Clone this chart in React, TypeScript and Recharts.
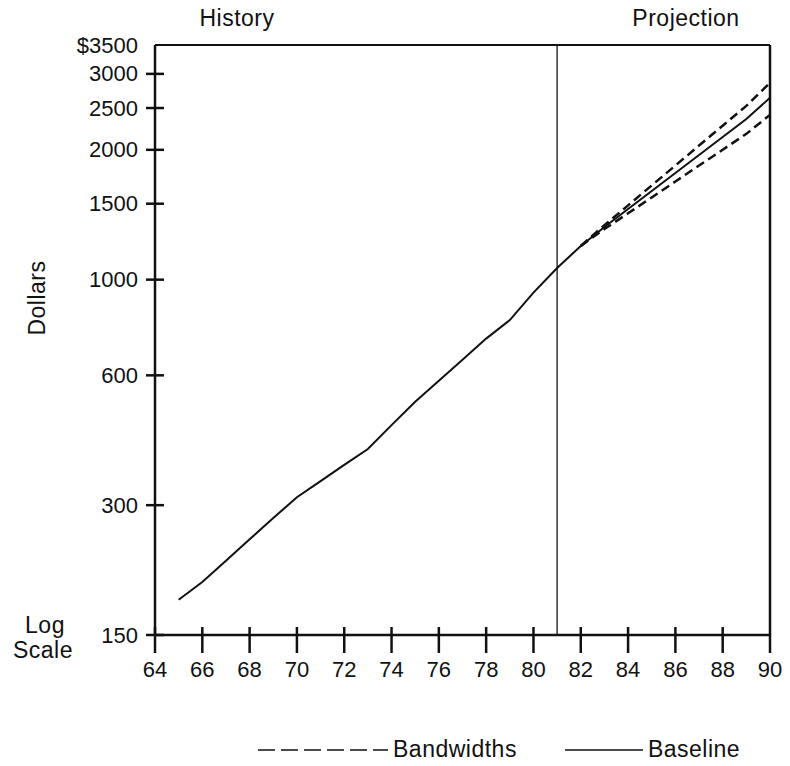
import React from 'react';
import { LineChart, Line, XAxis, YAxis, ReferenceLine, Legend } from 'recharts';

// values
const historyYears = [65, 66, 67, 68, 69, 70, 71, 72, 73, 74, 75, 76, 77, 78, 79, 80, 81];
const historyValues = [181, 199, 223, 250, 280, 313, 341, 372, 405, 460, 521, 583, 652, 730, 806, 933, 1064];

const projectionYears = [82, 83, 84, 85, 86, 87, 88, 89, 90];
const baselineValues = [1197, 1325, 1458, 1605, 1767, 1946, 2142, 2358, 2640];
const upperBandValues = [1197, 1338, 1487, 1654, 1839, 2046, 2275, 2529, 2860];
const lowerBandValues = [1197, 1310, 1425, 1551, 1689, 1839, 2001, 2178, 2410];

const xTicks = [64, 66, 68, 70, 72, 74, 76, 78, 80, 82, 84, 86, 88, 90];
const yTicks = [150, 300, 600, 1000, 1500, 2000, 2500, 3000, 3500];

const data = [
	...historyYears.map((year, i) => ({ year, baseline: historyValues[i] })),
	...projectionYears.map((year, i) => ({
		year,
		baseline: baselineValues[i],
		upper: upperBandValues[i],
		lower: lowerBandValues[i],
	})),
];

const FONT = '"Liberation Sans", Arial, Helvetica, sans-serif';
const INK = '#111';

const XTick = (props: any) => {
	const { x, y, payload } = props;
	return (
		<g>
			<line x1={x} x2={x} y1={payload.value === 90 ? y : y - 8} y2={y + 18} stroke={INK} strokeWidth={2.5} />
			<text x={x} y={y + 34} textAnchor="middle" dominantBaseline="central" fontSize={22} fill={INK} fontFamily={FONT}>
				{payload.value}
			</text>
		</g>
	);
};

const YTick = (props: any) => {
	const { x, y, payload } = props;
	const label = payload.value === 3500 ? '$3500' : String(payload.value);
	return (
		<g>
			{payload.value !== 3500 && <line x1={x - 9} x2={x + 9} y1={y} y2={y} stroke={INK} strokeWidth={2.5} />}
			<text x={x - 17} y={y} textAnchor="end" dominantBaseline="central" fontSize={22} fill={INK} fontFamily={FONT}>
				{label}
			</text>
		</g>
	);
};

const LegendContent = () => (
	<div style={{ display: 'flex', alignItems: 'center', fontFamily: FONT, fontSize: 23, color: INK, letterSpacing: 0.5 }}>
		<svg width={130} height={10}>
			<line x1={0} x2={130} y1={5} y2={5} stroke={INK} strokeWidth={1.5} strokeDasharray="17 6" />
		</svg>
		<span style={{ marginLeft: 5 }}>Bandwidths</span>
		<svg width={78} height={10} style={{ marginLeft: 48 }}>
			<line x1={0} x2={78} y1={5} y2={5} stroke={INK} strokeWidth={1.5} />
		</svg>
		<span style={{ marginLeft: 5 }}>Baseline</span>
	</div>
);

const textStyle: React.CSSProperties = {
	position: 'absolute',
	fontFamily: FONT,
	fontSize: 23,
	color: INK,
	lineHeight: 1,
	letterSpacing: 0.5,
	transform: 'translate(-50%, -50%)',
	whiteSpace: 'nowrap',
};

export default function App() {
	return (
		<div style={{ position: 'relative', width: 782, height: 750, background: '#fff' }}>
			<LineChart width={782} height={750} data={data} margin={{ top: 37, right: 20, left: 0, bottom: 93 }}>
				<XAxis
					dataKey="year"
					type="number"
					domain={[64, 90]}
					ticks={xTicks}
					height={30}
					tickSize={0}
					tickMargin={0}
					tickLine={false}
					axisLine={{ stroke: INK, strokeWidth: 2.5 }}
					tick={<XTick />}
				/>
				<YAxis
					type="number"
					scale="log"
					domain={[150, 3500]}
					ticks={yTicks}
					width={147}
					tickSize={0}
					tickMargin={0}
					tickLine={false}
					axisLine={{ stroke: INK, strokeWidth: 2.5 }}
					tick={<YTick />}
				/>
				<ReferenceLine y={3500} stroke={INK} strokeWidth={2} />
				<ReferenceLine x={90} stroke={INK} strokeWidth={2.5} />
				<ReferenceLine x={81} stroke={INK} strokeWidth={1.3} />
				<Line type="linear" dataKey="upper" stroke={INK} strokeWidth={2.5} strokeDasharray="9 5" dot={false} isAnimationActive={false} />
				<Line type="linear" dataKey="lower" stroke={INK} strokeWidth={2.5} strokeDasharray="9 5" dot={false} isAnimationActive={false} />
				<Line type="linear" dataKey="baseline" stroke={INK} strokeWidth={2} dot={false} isAnimationActive={false} />
				<Legend
					layout="horizontal"
					verticalAlign="middle"
					align="center"
					content={<LegendContent />}
					wrapperStyle={{ top: 728, left: 250, width: 520, height: 24 }}
				/>
			</LineChart>
			<div style={{ ...textStyle, left: 229, top: 10 }}>History</div>
			<div style={{ ...textStyle, left: 678, top: 10 }}>Projection</div>
			<div style={{ ...textStyle, left: 29, top: 290, transform: 'translate(-50%, -50%) rotate(-90deg)' }}>Dollars</div>
			<div style={{ ...textStyle, left: 37, top: 617 }}>Log</div>
			<div style={{ ...textStyle, left: 35, top: 642 }}>Scale</div>
		</div>
	);
}
